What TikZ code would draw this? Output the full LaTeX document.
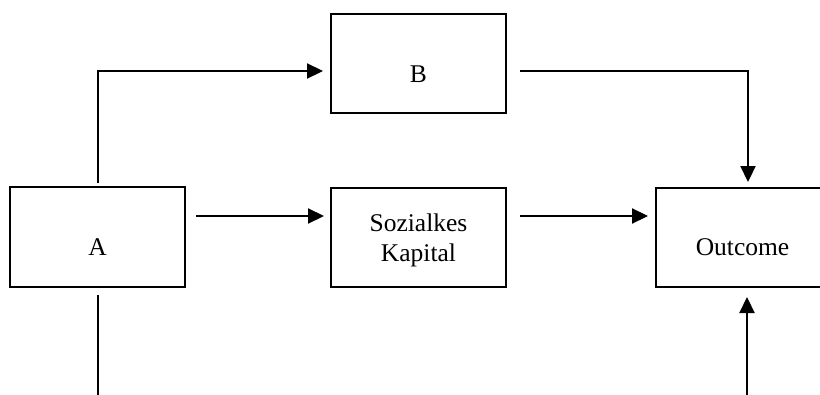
\documentclass[tikz,border=0pt]{standalone}
\usepackage{fontspec}
\setmainfont{Liberation Serif}
\usetikzlibrary{arrows.meta,calc}
\begin{document}
\begin{tikzpicture}[x=1pt,y=-1pt,
  box/.style={draw=black,line width=2.2pt,rectangle,inner sep=0pt},
  lbl/.style={font=\fontsize{25.5}{30}\selectfont,inner sep=0pt,anchor=base,align=center},
  conn/.style={line width=2.2pt,draw=black},
  arr/.style={conn,-{Triangle[length=16pt,width=15pt]}}]
\clip (0,0) rectangle (820,394);
\useasboundingbox (0,0) rectangle (820,394);
% boxes
\node[box,minimum width=175pt,minimum height=100pt] (A) at (97.5,237) {};
\node[box,minimum width=175pt,minimum height=99pt] (B) at (418.5,63.5) {};
\node[box,minimum width=175pt,minimum height=99pt] (S) at (418.5,237.5) {};
\node[box,minimum width=173pt,minimum height=99pt] (O) at (742.5,237.5) {};
% labels
\node[lbl] (tA) at (97.5,255) {A};
\node[lbl] (tB) at (418.5,82) {B};
\node[lbl,anchor=north] (tS) at (418.5,214) {Sozialkes\\Kapital};
\node[lbl] (tO) at (742.5,255) {Outcome};
% connector end points
\coordinate (a1) at (98,183);
\coordinate (a2) at (98,71);
\coordinate (b1) at (323,71);
\coordinate (b2) at (520,71);
\coordinate (o1) at (748,182);
\coordinate (as1) at (196,216);
\coordinate (as2) at (324,216);
\coordinate (so1) at (520,216);
\coordinate (so2) at (648,216);
\coordinate (ab1) at (98,295);
\coordinate (ab2) at (98,396);
\coordinate (ob1) at (747,396);
\coordinate (ob2) at (747,297);
% connectors
\draw[arr] (a1) -- (a2) -- (b1);
\draw[arr] (b2) -| (o1);
\draw[arr] (as1) -- (as2);
\draw[arr] (so1) -- (so2);
\draw[conn] (ab1) -- (ab2);
\draw[arr] (ob1) -- (ob2);
\end{tikzpicture}
\end{document}
